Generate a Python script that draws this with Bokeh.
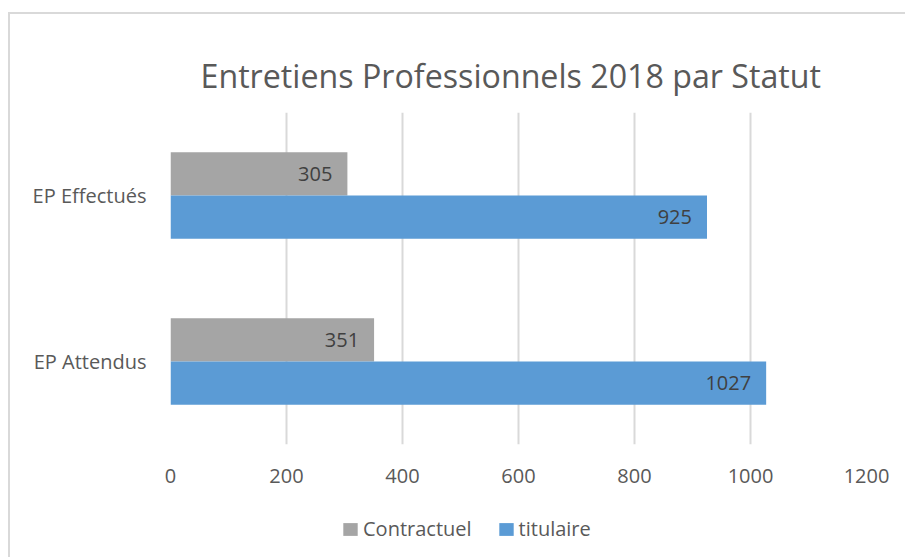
from bokeh.plotting import figure
from bokeh.layouts import column
from bokeh.models import (ColumnDataSource, FactorRange, Range1d, FixedTicker,
                          LabelSet, Legend, LegendItem)
from bokeh.core.properties import value
from bokeh.transform import dodge
from bokeh.embed import file_html
from bokeh.resources import INLINE

categories = ["EP Attendus", "EP Effectués"]
series = ["Contractuel", "titulaire"]
contractuel = [351, 305]
titulaire = [1027, 925]
ticks = [0, 200, 400, 600, 800, 1000, 1200]
title = "Entretiens Professionnels 2018 par Statut"

FONT = "Open Sans"
GRAY = "#a5a5a5"
BLUE = "#5b9bd5"
TXT = "#595959"

src = ColumnDataSource(dict(cat=categories, c=contractuel, t=titulaire,
                            cl=[str(v) for v in contractuel],
                            tl=[str(v) for v in titulaire]))

p = figure(width=895, height=490, output_backend="svg", toolbar_location=None,
           y_range=FactorRange(factors=categories), x_range=Range1d(0, 1200),
           min_border_left=160, min_border_right=39, min_border_top=98,
           min_border_bottom=60, title=title)
p.outline_line_color = None
p.background_fill_color = "white"
p.border_fill_color = "white"

p.title.text_font = FONT
p.title.text_font_size = "32.2px"
p.title.text_font_style = "normal"
p.title.text_color = TXT
p.title.align = "left"
p.title.offset = 30
p.title.standoff = 31

rc = p.hbar(y=dodge("cat", 0.13, range=p.y_range), right="c", height=0.26,
            source=src, color=GRAY, line_color=None)
rt = p.hbar(y=dodge("cat", -0.13, range=p.y_range), right="t", height=0.26,
            source=src, color=BLUE, line_color=None)

for col, lab, off in (("c", "cl", 0.13), ("t", "tl", -0.13)):
    p.add_layout(LabelSet(x=col, y=dodge("cat", off, range=p.y_range), text=lab,
                          source=src, x_offset=-15, text_align="right",
                          text_baseline="middle", text_font=value(FONT),
                          text_font_size=value("20px"), text_color="#404040"))

p.xaxis.ticker = FixedTicker(ticks=ticks)
for ax in (p.xaxis, p.yaxis):
    ax.axis_line_color = None
    ax.major_tick_line_color = None
    ax.minor_tick_line_color = None
    ax.major_label_text_font = FONT
    ax.major_label_text_font_size = "20px"
    ax.major_label_text_color = TXT
p.xaxis.major_label_standoff = 18
p.yaxis.major_label_standoff = 18

p.ygrid.grid_line_color = None
p.xgrid.ticker = FixedTicker(ticks=ticks)
p.xgrid.grid_line_color = "#d9d9d9"
p.xgrid.grid_line_width = 2

# legend strip below the chart (its proxy bars have no height and lie off-range)
p2 = figure(width=895, height=53, output_backend="svg", toolbar_location=None,
            x_axis_location=None, y_axis_location=None, min_border=0,
            y_range=FactorRange(factors=categories), x_range=Range1d(-2, -1))
p2.outline_line_color = None
p2.xgrid.visible = False
p2.ygrid.visible = False
lc = p2.hbar(y="cat", left=0, right="c", height=0, source=src,
             color=GRAY, line_color=None)
lt = p2.hbar(y="cat", left=0, right="t", height=0, source=src,
             color=BLUE, line_color=None)
legend = Legend(items=[LegendItem(label=series[0], renderers=[lc]),
                       LegendItem(label=series[1], renderers=[lt])],
                orientation="horizontal", location=(171, 15),
                label_text_font=FONT, label_text_font_size="20px",
                label_text_color=TXT, glyph_width=18, glyph_height=16,
                label_standoff=4, spacing=25, padding=0, margin=0,
                border_line_color=None, background_fill_alpha=0)
p2.add_layout(legend, "center")

layout = column(p, p2, spacing=0,
                styles={"border-left": "2px solid #d9d9d9",
                        "border-top": "2px solid #d9d9d9",
                        "margin-top": "12px", "margin-left": "8px"})

open("out.html", "w").write(file_html(layout, INLINE))
